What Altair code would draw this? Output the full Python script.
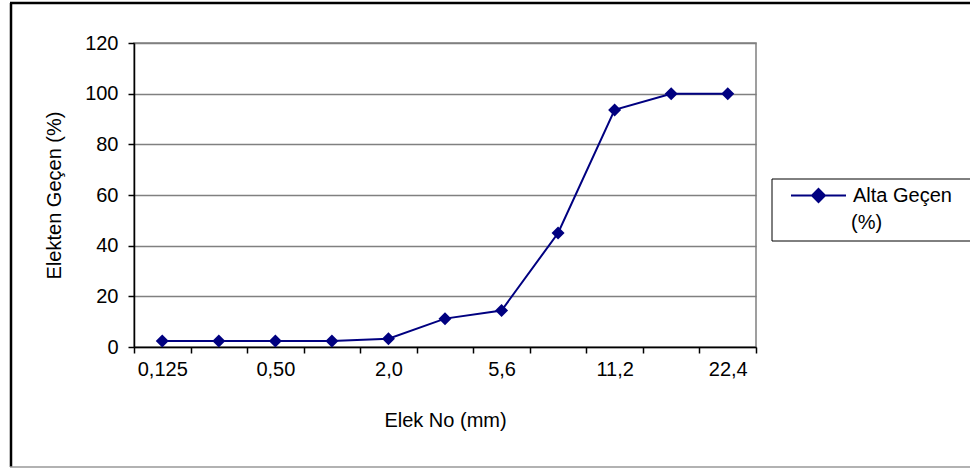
import altair as alt
import json
import pandas as pd

# Sieve openings (mm) and cumulative percentage passing
sieve_sizes = ["0,125", "0,25", "0,50", "1,0", "2,0", "4,0", "5,6", "8,0", "11,2", "16,0", "22,4"]
passing = [2.4, 2.4, 2.4, 2.4, 3.3, 11.2, 14.4, 45.0, 93.6, 100, 100]
labelled_sizes = ["0,125", "0,50", "2,0", "5,6", "11,2", "22,4"]
y_ticks = [0, 20, 40, 60, 80, 100, 120]
series_lines = ["Alta Geçen", "(%)"]

df = pd.DataFrame({"elek": sieve_sizes, "gecen": passing, "seri": series_lines[0]})

FONT = "Liberation Sans"
NAVY = "#000080"
GRID = "#808080"

x_enc = alt.X(
    "elek:N",
    sort=sieve_sizes,
    bandPosition=0.5,
    scale=alt.Scale(type="band", paddingInner=0, paddingOuter=0),
    axis=alt.Axis(
        title="Elek No (mm)",
        labelAngle=0,
        tickBand="extent",
        grid=False,
        tickSize=6,
        labelPadding=6,
        titlePadding=31,
        labelExpr="indexof(" + json.dumps(labelled_sizes, ensure_ascii=False)
        + ", datum.label) >= 0 ? datum.label : ''",
    ),
)
y_enc = alt.Y(
    "gecen:Q",
    scale=alt.Scale(domain=[0, 120], nice=False),
    axis=alt.Axis(
        title="Elekten Geçen (%)",
        values=y_ticks,
        grid=True,
        gridColor=GRID,
        tickSize=6,
        labelPadding=10,
        titlePadding=20,
    ),
)
color_enc = alt.Color(
    "seri:N",
    scale=alt.Scale(range=[NAVY]),
    legend=alt.Legend(
        title=None,
        orient="none",
        legendX=656,
        legendY=124,
        padding=0,
        # line with a diamond marker, like the plotted series
        symbolType="M-1,0L1,0M0,-0.236L0.236,0L0,0.236L-0.236,0Z",
        symbolSize=3025,
        symbolFillColor=NAVY,
        symbolStrokeColor=NAVY,
        symbolStrokeWidth=2,
        labelFontSize=20,
        labelFont=FONT,
        labelColor="black",
        labelOffset=6,
    ),
)

base = alt.Chart(df)
line = base.mark_line(strokeWidth=2).encode(x=x_enc, y=y_enc, color=color_enc)
points = base.mark_point(shape="diamond", filled=True, size=169, opacity=1).encode(
    x=x_enc, y=y_enc, color=alt.Color("seri:N", scale=alt.Scale(range=[NAVY]), legend=None)
)

one = alt.Data(values=[{}])
# outer chart frame
frame_left = alt.Chart(one).mark_rule(color="black", strokeWidth=2.5).encode(
    x=alt.value(-123), y=alt.value(-40), y2=alt.value(424)
)
frame_top = alt.Chart(one).mark_rule(color="black", strokeWidth=2.5).encode(
    x=alt.value(-124), x2=alt.value(860), y=alt.value(-40)
)
frame_bottom = alt.Chart(one).mark_rule(color="#999999", strokeWidth=1.5).encode(
    x=alt.value(-124), x2=alt.value(860), y=alt.value(424)
)
# legend box and the wrapped second line of the series name
legend_box = alt.Chart(one).mark_rect(fill="white", stroke="black", strokeWidth=1).encode(
    x=alt.value(638), x2=alt.value(860), y=alt.value(136), y2=alt.value(198)
)
legend_line2 = alt.Chart(one).mark_text(
    text=series_lines[1], font=FONT, fontSize=20, color="black", align="left", baseline="middle"
).encode(x=alt.value(717), y=alt.value(180))

chart = (
    alt.layer(frame_left, frame_top, frame_bottom, legend_box, legend_line2, line, points)
    .properties(
        width=622,
        height=304,
        padding={"left": 134, "top": 43, "right": 214, "bottom": 121},
        autosize=alt.AutoSizeParams(type="none"),
        background="white",
    )
    .configure_view(stroke=GRID, strokeWidth=1.5)
    .configure_axis(
        labelFont=FONT,
        titleFont=FONT,
        labelFontSize=20,
        titleFontSize=20,
        titleFontWeight="normal",
        labelColor="black",
        titleColor="black",
        domainColor="black",
        tickColor="black",
        domainWidth=1.5,
        tickWidth=1.5,
        gridWidth=1.5,
    )
)

chart.save("out.html", embed_options={"renderer": "svg", "actions": False})
